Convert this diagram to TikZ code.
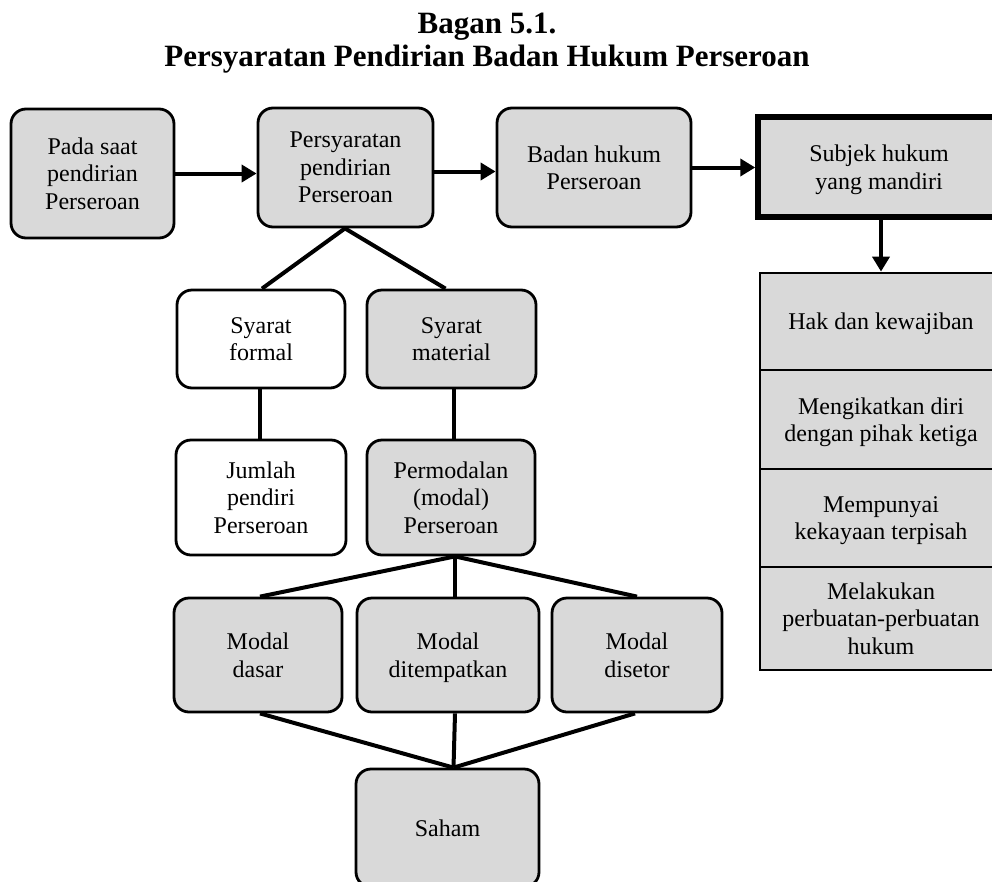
\documentclass[tikz,border=0pt]{standalone}
\usepackage{fontspec}
\setmainfont{Liberation Serif}
\usetikzlibrary{arrows.meta}
\definecolor{boxgray}{HTML}{D9D9D9}
\begin{document}
\begin{tikzpicture}[x=1pt,y=-1pt,
  box/.style={draw, line width=2.8pt, rounded corners=15pt, fill=boxgray,
    inner sep=0pt, align=center, text depth=-6pt,
    font=\fontsize{24}{27.5}\selectfont},
  plainbox/.style={box, fill=white},
  cell/.style={draw, line width=2.8pt, fill=boxgray, inner sep=0pt,
    align=center, text depth=-6pt, minimum width=242pt,
    font=\fontsize{24}{27.5}\selectfont},
  link/.style={line width=4pt},
  flow/.style={line width=4pt, -{Triangle[length=15pt,width=17pt]}},
  title/.style={font=\bfseries\fontsize{31}{33}\selectfont, anchor=base}
]
\useasboundingbox (0,0) rectangle (992,881);

% heading
\node[title] (t1) at (487,33) {Bagan 5.1.};
\node[title] (t2) at (487,66) {Persyaratan Pendirian Badan Hukum Perseroan};

% top row
\node[box, minimum width=163pt, minimum height=129pt] (pada) at (92.5,173.5) {Pada saat\\pendirian\\Perseroan};
\node[box, minimum width=175pt, minimum height=119pt] (syarat) at (345.5,167.5) {Persyaratan\\pendirian\\Perseroan};
\node[box, minimum width=194pt, minimum height=119pt] (badan) at (594,167.5) {Badan hukum\\Perseroan};
\node[box, sharp corners, line width=5.5pt, minimum width=242pt, minimum height=100pt] (subjek) at (879,167) {Subjek hukum\\yang mandiri};

% stacked consequences
\node[cell, minimum height=97pt] (hak) at (881,321.5) {Hak dan kewajiban};
\node[cell, minimum height=99pt] (ikat) at (881,419.5) {Mengikatkan diri\\dengan pihak ketiga};
\node[cell, minimum height=98pt] (kaya) at (881,518) {Mempunyai\\kekayaan terpisah};
\node[cell, minimum height=103pt] (buat) at (881,618.5) {Melakukan\\perbuatan-perbuatan\\hukum};

% requirements
\node[plainbox, minimum width=168pt, minimum height=98pt] (formal) at (261,339) {Syarat\\formal};
\node[box, minimum width=169pt, minimum height=98pt] (material) at (451.5,339) {Syarat\\material};
\node[plainbox, minimum width=170pt, minimum height=115pt] (jumlah) at (261,497.5) {Jumlah\\pendiri\\Perseroan};
\node[box, minimum width=168pt, minimum height=115pt] (modal) at (451,497.5) {Permodalan\\(modal)\\Perseroan};

% kinds of capital
\node[box, minimum width=168pt, minimum height=114pt] (dasar) at (258,655) {Modal\\dasar};
\node[box, minimum width=182pt, minimum height=114pt] (tempat) at (448,655) {Modal\\ditempatkan};
\node[box, minimum width=170pt, minimum height=114pt] (setor) at (637,655) {Modal\\disetor};
\node[box, minimum width=183pt, minimum height=118pt] (saham) at (447.5,828) {Saham};

% arrows
\draw[flow] (pada) -- (pada -| syarat.west);
\draw[flow] ([yshift=-4pt]syarat.east) -- ([yshift=-4pt]badan.west);
\draw[flow] (badan.east) -- (badan.east -| subjek.west);
\draw[flow] (hak.north |- subjek.south) -- (hak.north);

% tree links
\draw[link] ([xshift=-0.5pt]syarat.south) -- ([xshift=1pt]formal.north);
\draw[link] ([xshift=-0.5pt]syarat.south) -- ([xshift=-6pt]material.north);
\draw[link] ([xshift=-1pt]formal.south) -- ([xshift=-1pt]jumlah.north);
\draw[link] ([xshift=2.5pt]material.south) -- ([xshift=3pt]modal.north);
\draw[link] ([xshift=4pt]modal.south) -- ([xshift=2pt]dasar.north);
\draw[link] ([xshift=4pt]modal.south) -- ([xshift=7pt]tempat.north);
\draw[link] ([xshift=4pt]modal.south) -- (setor.north);
\draw[link] ([xshift=2pt]dasar.south) -- ([xshift=6pt]saham.north);
\draw[link] ([xshift=7pt]tempat.south) -- ([xshift=6pt]saham.north);
\draw[link] ([xshift=-2pt]setor.south) -- ([xshift=6pt]saham.north);
\end{tikzpicture}
\end{document}
